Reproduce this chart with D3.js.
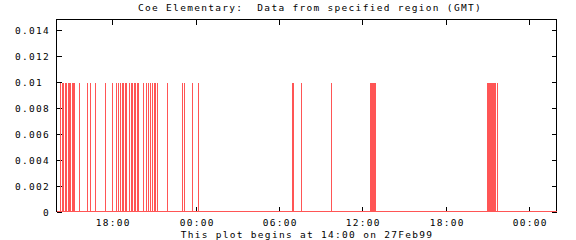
<!DOCTYPE html>
<html><head><meta charset="utf-8">
<script src="https://cdn.jsdelivr.net/npm/d3@7"></script>
<style>
body{margin:0;background:#fff;}
svg text{font-family:"DejaVu Sans Mono","Liberation Mono",monospace;font-size:9.5px;letter-spacing:1.3px;fill:#000;white-space:pre;}
</style></head>
<body><svg id="c" width="576" height="240"></svg>
<script>
const title = "Coe Elementary:  Data from specified region (GMT)";
const footer = "This plot begins at 14:00 on 27Feb99";
const startTime = "1999-02-27T14:00Z";
const endTime = "1999-03-01T02:00Z";
// event times (GMT) with recorded value
const eventTimes = [
 "1999-02-27T14:13","1999-02-27T14:22","1999-02-27T14:30","1999-02-27T14:37","1999-02-27T14:43",
 "1999-02-27T14:50","1999-02-27T14:56","1999-02-27T15:00","1999-02-27T15:05","1999-02-27T15:11",
 "1999-02-27T15:16","1999-02-27T15:35","1999-02-27T16:10","1999-02-27T16:23","1999-02-27T16:44",
 "1999-02-27T17:30","1999-02-27T17:58","1999-02-27T18:15","1999-02-27T18:24","1999-02-27T18:32",
 "1999-02-27T18:41","1999-02-27T18:49","1999-02-27T18:56","1999-02-27T19:02","1999-02-27T19:11",
 "1999-02-27T19:20","1999-02-27T19:26","1999-02-27T19:33","1999-02-27T19:39","1999-02-27T19:46",
 "1999-02-27T19:52","1999-02-27T20:14","1999-02-27T20:27","1999-02-27T20:33","1999-02-27T20:44",
 "1999-02-27T20:53","1999-02-27T20:59","1999-02-27T21:06","1999-02-27T21:12","1999-02-27T21:57",
 "1999-02-27T23:00","1999-02-27T23:09","1999-02-27T23:45","1999-02-28T00:11",
 "1999-02-28T06:57","1999-02-28T07:02","1999-02-28T07:36","1999-02-28T09:46",
 "1999-02-28T12:32","1999-02-28T12:34","1999-02-28T12:36","1999-02-28T12:38","1999-02-28T12:40",
 "1999-02-28T12:42","1999-02-28T12:44","1999-02-28T12:46","1999-02-28T12:48","1999-02-28T12:50",
 "1999-02-28T12:52","1999-02-28T12:54",
 "1999-02-28T20:58","1999-02-28T21:00","1999-02-28T21:02","1999-02-28T21:04","1999-02-28T21:06",
 "1999-02-28T21:08","1999-02-28T21:10","1999-02-28T21:12","1999-02-28T21:14","1999-02-28T21:16",
 "1999-02-28T21:18","1999-02-28T21:20","1999-02-28T21:22","1999-02-28T21:24","1999-02-28T21:26",
 "1999-02-28T21:28","1999-02-28T21:30","1999-02-28T21:32","1999-02-28T21:34",
 "1999-02-28T21:43"
];
const eventValue = 0.01;
const yTickValues = [0, 0.002, 0.004, 0.006, 0.008, 0.01, 0.012, 0.014];
const yTickLabels = ["0", "0.002", "0.004", "0.006", "0.008", "0.01 ", "0.012", "0.014"];
const xTickTimes = ["1999-02-27T18:00Z","1999-02-28T00:00Z","1999-02-28T06:00Z","1999-02-28T12:00Z","1999-02-28T18:00Z","1999-03-01T00:00Z"];

const svg = d3.select("#c");
const L = 56.5, R = 556.5, T = 19.5, B = 211.5;
const parse = s => new Date(s.endsWith("Z") ? s : s + "Z");
const x = d3.scaleUtc().domain([parse(startTime), parse(endTime)]).range([L, R + 0.5]);
const y = d3.scaleLinear().domain([0, 0.014]).range([B, 29.5]);
const fmt = d3.utcFormat("%H:%M");

// title
svg.append("text").attr("x", 310).attr("y", 11).attr("text-anchor", "middle").text(title);

// frame
svg.append("rect").attr("x", L).attr("y", T).attr("width", R - L).attr("height", B - T)
  .attr("fill", "none").attr("stroke", "#000").attr("shape-rendering", "crispEdges");

// y ticks (left & right, inward)
const yg = svg.append("g").attr("shape-rendering", "crispEdges");
yTickValues.forEach((v, i) => {
  const yy = Math.round(y(v)) + 0.5;
  yg.append("line").attr("x1", L).attr("x2", L + 5).attr("y1", yy).attr("y2", yy).attr("stroke", "#000");
  yg.append("line").attr("x1", R - 5).attr("x2", R).attr("y1", yy).attr("y2", yy).attr("stroke", "#000");
  yg.append("text").attr("x", 50).attr("y", yy + 3.5).attr("text-anchor", "end").text(yTickLabels[i]);
});

// x ticks (bottom & top, inward)
const xg = svg.append("g").attr("shape-rendering", "crispEdges");
xTickTimes.map(parse).forEach(t => {
  const xx = Math.round(x(t)) + 0.5;
  xg.append("line").attr("x1", xx).attr("x2", xx).attr("y1", B).attr("y2", B - 5).attr("stroke", "#000");
  xg.append("line").attr("x1", xx).attr("x2", xx).attr("y1", T).attr("y2", T + 5).attr("stroke", "#000");
  xg.append("text").attr("x", xx + 0.7).attr("y", 226).attr("text-anchor", "middle").text(fmt(t));
});

// data: impulses + zero baseline
const red = "#ff5555";
const dg = svg.append("g").attr("shape-rendering", "crispEdges");
dg.append("line").attr("x1", L).attr("x2", R).attr("y1", B).attr("y2", B).attr("stroke", red);
dg.selectAll("line.ev").data(eventTimes.map(parse)).join("line").attr("class", "ev")
  .attr("x1", d => Math.round(x(d)) + 0.5).attr("x2", d => Math.round(x(d)) + 0.5)
  .attr("y1", B).attr("y2", Math.round(y(eventValue)) + 0.5)
  .attr("stroke", red).attr("stroke-width", 1);

// footer
svg.append("text").attr("x", 307).attr("y", 237.5).attr("text-anchor", "middle").text(footer);
</script></body></html>
